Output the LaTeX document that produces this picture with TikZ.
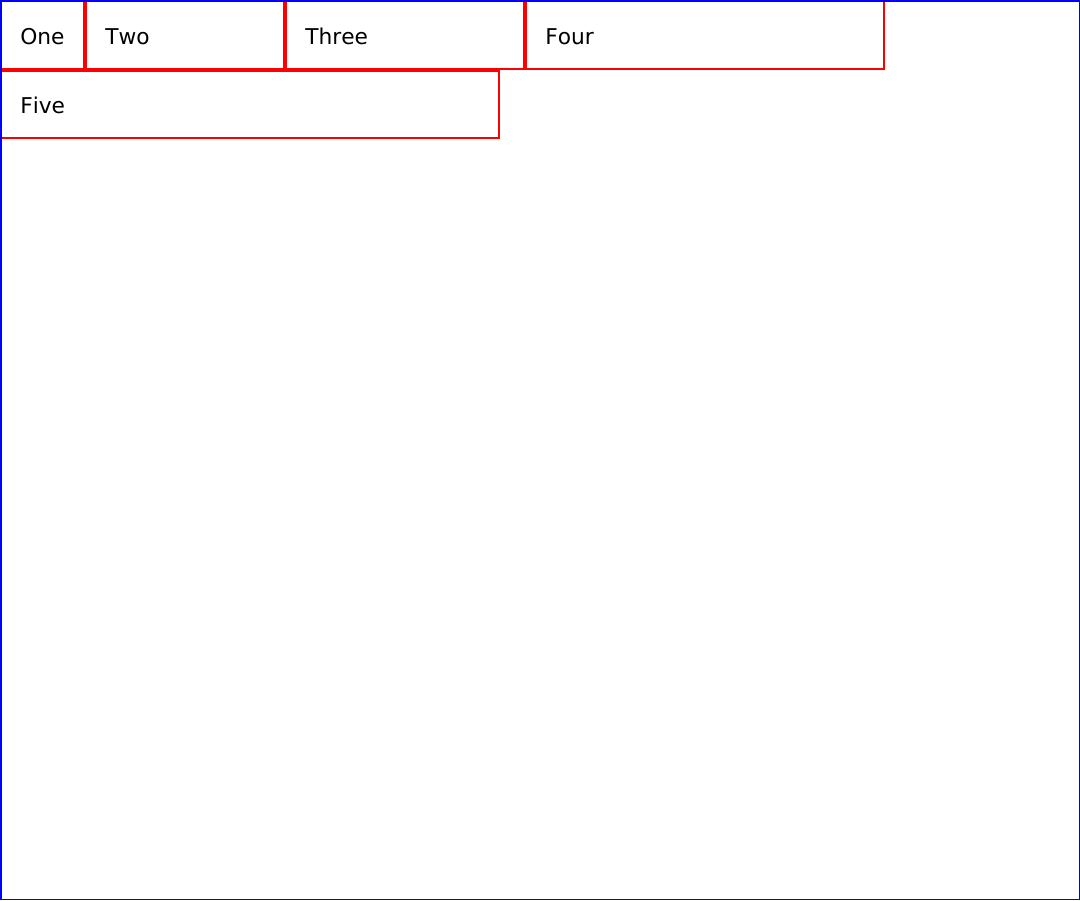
\documentclass[tikz,border=0pt]{standalone}
\usepackage{fontspec}
\setmainfont{DejaVu Sans}[Kerning=Off]
\usetikzlibrary{positioning}
\tikzset{
  cell/.style={draw=red, line width=1.15pt, anchor=north west, inner sep=0pt,
    outer sep=0pt, minimum height=68.5*0.75pt},
  lbl/.style={anchor=base west, inner sep=0pt, font=\fontsize{16.3}{19}\selectfont}
}
\begin{document}
\begin{tikzpicture}[x = 0.75pt, y = -0.75pt]
\useasboundingbox (0,0) rectangle (1080,900);
% first row
\node[cell, minimum width=83.5*0.75pt] (one) at (0.75,0.75) {};
\node[cell, minimum width=198.5*0.75pt] (two) at (85.75,0.75) {};
\node[cell, minimum width=238.5*0.75pt] (three) at (285.75,0.75) {};
\node[cell, minimum width=358.5*0.75pt] (four) at (525.75,0.75) {};
% second row
\node[cell, minimum width=498.5*0.75pt, minimum height=67.5*0.75pt] (five) at (0.75,70.75) {};
\node[lbl] at ([shift={(19.25,43.5)}]one.north west) {One};
\node[lbl] at ([shift={(19.25,43.5)}]two.north west) {Two};
\node[lbl] at ([shift={(19.25,43.5)}]three.north west) {Three};
\node[lbl] at ([shift={(19.25,43.5)}]four.north west) {Four};
\node[lbl] at ([shift={(19.25,43)}]five.north west) {Five};
\draw[blue, line width=1.15pt] (0.75,0.75) rectangle (1079.25,899.25);
\end{tikzpicture}
\end{document}
